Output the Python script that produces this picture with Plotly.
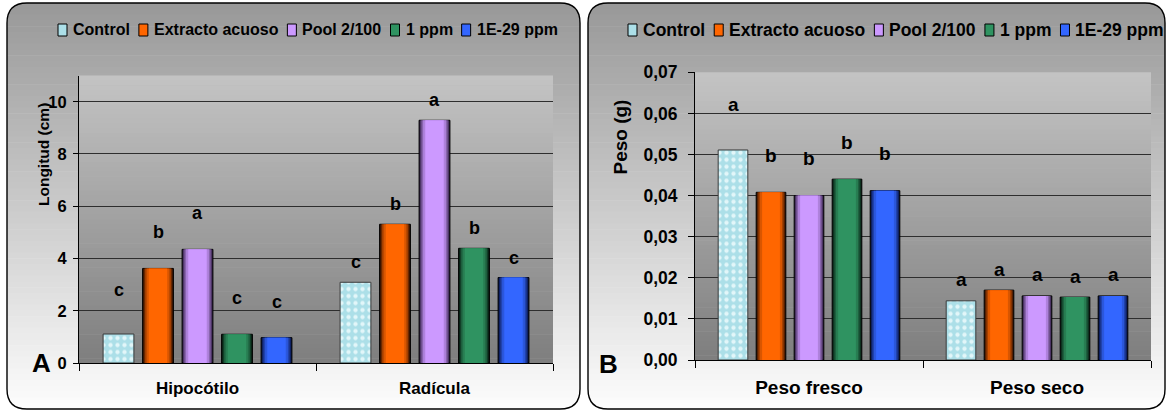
import plotly.graph_objects as go

W, H = 1166, 412

# ---------------- data ----------------
categories_A = ["Hipocótilo", "Radícula"]
categories_B = ["Peso fresco", "Peso seco"]
series_names = ["Control", "Extracto acuoso", "Pool 2/100", "1 ppm", "1E-29 ppm"]

longitud_control = [1.11, 3.09]
longitud_extracto = [3.62, 5.31]
longitud_pool = [4.35, 9.29]
longitud_1ppm = [1.10, 4.39]
longitud_1e29 = [0.97, 3.27]

letras_A_control = ["c", "c"]
letras_A_extracto = ["b", "b"]
letras_A_pool = ["a", "a"]
letras_A_1ppm = ["c", "b"]
letras_A_1e29 = ["c", "c"]

peso_control = [0.0511, 0.0144]
peso_extracto = [0.0408, 0.0170]
peso_pool = [0.0400, 0.0156]
peso_1ppm = [0.0440, 0.0153]
peso_1e29 = [0.0412, 0.0156]

letras_B_control = ["a", "a"]
letras_B_extracto = ["b", "a"]
letras_B_pool = ["b", "a"]
letras_B_1ppm = ["b", "a"]
letras_B_1e29 = ["b", "a"]

yticks_A = [0, 2, 4, 6, 8, 10]
yticks_B = [0.00, 0.01, 0.02, 0.03, 0.04, 0.05, 0.06, 0.07]

values_A = [longitud_control, longitud_extracto, longitud_pool, longitud_1ppm, longitud_1e29]
letters_A = [letras_A_control, letras_A_extracto, letras_A_pool, letras_A_1ppm, letras_A_1e29]
values_B = [peso_control, peso_extracto, peso_pool, peso_1ppm, peso_1e29]
letters_B = [letras_B_control, letras_B_extracto, letras_B_pool, letras_B_1ppm, letras_B_1e29]

# ---------------- style ----------------
FONT = "Liberation Sans, Arial, sans-serif"
colors_base = ["#acdfe8", "#ff6600", "#cc99ff", "#2f9361", "#3366ff"]
colors_dark = ["#7fb9c4", "#2a0e00", "#2a1a3c", "#061a10", "#06103c"]
SLOT = 1 / 6
BW = 0.13
LAYERS = [(1.0, 0.05), (0.92, 0.3), (0.84, 0.58), (0.74, 0.82), (0.6, 1.0)]


def hex2rgb(h):
    h = h.lstrip("#")
    return tuple(int(h[i:i + 2], 16) for i in (0, 2, 4))


def mix(c1, c2, t):
    a, b = hex2rgb(c1), hex2rgb(c2)
    r = [round(a[i] + (b[i] - a[i]) * t) for i in range(3)]
    return "rgb(%d,%d,%d)" % tuple(r)


def gx(x):
    return x / W


def gy(y):
    return 1 - y / H


fig = go.Figure()


def add_bars(values, cats, xa, ya):
    for si, vals in enumerate(values):
        center = (si - 2) * SLOT
        if si == 0:
            fig.add_trace(go.Bar(
                x=cats, y=vals, width=BW, offset=center - BW / 2,
                name=series_names[si], showlegend=False, xaxis=xa, yaxis=ya,
                marker=dict(color=colors_base[0],
                            line=dict(color="#3a3a3a", width=1),
                            pattern=dict(shape=".", bgcolor=colors_base[0],
                                         fgcolor="#e2f6f9", size=7, solidity=0.3))))
            continue
        for li, (f, t) in enumerate(LAYERS):
            w = BW * f
            fig.add_trace(go.Bar(
                x=cats, y=vals, width=w, offset=center - w / 2,
                name=series_names[si], showlegend=False, xaxis=xa, yaxis=ya,
                marker=dict(color=mix(colors_dark[si], colors_base[si], t),
                            line=dict(color="black", width=1 if li == 0 else 0))))


add_bars(values_A, categories_A, "x", "y")
add_bars(values_B, categories_B, "x2", "y2")

annotations = []
# letters above bars (pixel offsets above bar tops)
letter_shift_A = [36, 20]
letter_shift_B = [37, 21]
control_first_extra = 8
for values, letters, shifts, xr, yr, fs in [
        (values_A, letters_A, letter_shift_A, "x", "y", 18),
        (values_B, letters_B, letter_shift_B, "x2", "y2", 19)]:
    for si in range(5):
        for ci in range(2):
            extra = control_first_extra if (si == 0 and ci == 0) else 0
            annotations.append(dict(
                x=ci + (si - 2) * SLOT, y=values[si][ci], xref=xr, yref=yr,
                text=letters[si][ci], showarrow=False, yshift=shifts[ci] + extra,
                font=dict(family=FONT, size=fs, color="black", weight="bold")))

# ---------------- backgrounds ----------------
shapes = []


def gradient(x0, x1, y0, y1, c_top, c_bot, n=60):
    step = (y1 - y0) / n
    for k in range(n):
        t = (k + 0.5) / n
        c = round(c_top + (c_bot - c_top) * t)
        ya = y0 + k * step
        yb = min(y1, ya + step + 0.6)
        shapes.append(dict(type="rect", xref="paper", yref="paper", layer="below",
                           x0=gx(x0), x1=gx(x1), y0=gy(ya), y1=gy(yb),
                           fillcolor="rgb(%d,%d,%d)" % (c, c, c), line=dict(width=0)))


def P(x, y):
    return "%.6f,%.6f" % (gx(x), gy(y))


def panel(x0, x1, y0, y1, r):
    gradient(x0, x1, y0, y1, 152, 253, n=70)
    for (cx, cy, sx, sy) in [(x0, y0, 1, 1), (x1, y0, -1, 1), (x0, y1, 1, -1), (x1, y1, -1, -1)]:
        shapes.append(dict(type="path", xref="paper", yref="paper", layer="below",
                           path="M%s L%s Q%s %s Z" % (P(cx, cy), P(cx + sx * r, cy), P(cx, cy),
                                                     P(cx, cy + sy * r)),
                           fillcolor="white", line=dict(width=0)))
    border = ("M%s L%s Q%s %s L%s Q%s %s L%s Q%s %s L%s Q%s %s Z" % (
        P(x0 + r, y0), P(x1 - r, y0), P(x1, y0), P(x1, y0 + r),
        P(x1, y1 - r), P(x1, y1), P(x1 - r, y1),
        P(x0 + r, y1), P(x0, y1), P(x0, y1 - r),
        P(x0, y0 + r), P(x0, y0), P(x0 + r, y0)))
    shapes.append(dict(type="path", xref="paper", yref="paper", layer="below",
                       path=border, line=dict(color="black", width=1.4)))


panel(7, 580, 3, 409, 20)
panel(588, 1165, 3, 409, 20)

# plot-area gradients
PA = (79, 553, 75.6, 363)
PB = (695, 1151, 72.3, 360)
gradient(PA[0], PA[1], PA[2], PA[3], 196, 126)
gradient(PB[0], PB[1], PB[2], PB[3], 196, 126)

# ---------------- custom legends ----------------
CW = {" ": 278, "/": 278, "-": 333, "C": 722, "E": 667, "P": 667, "a": 556, "c": 556,
      "l": 278, "m": 889, "n": 611, "o": 611, "p": 611, "r": 389, "s": 556, "t": 333,
      "u": 611, "x": 556}


def text_w(s, size):
    return sum(CW.get(ch, 556) for ch in s) / 1000 * size


def legend(x_start, yc, size, gap, sw=9, sh=12):
    x = x_start
    for si, name in enumerate(series_names):
        shapes.append(dict(type="rect", xref="paper", yref="paper", layer="above",
                           x0=gx(x), x1=gx(x + sw), y0=gy(yc + sh / 2), y1=gy(yc - sh / 2),
                           fillcolor=colors_base[si], line=dict(color="black", width=1)))
        annotations.append(dict(x=gx(x + sw + 4), y=gy(yc), xref="paper", yref="paper",
                                xanchor="left", yanchor="middle", text=name, showarrow=False,
                                font=dict(family=FONT, size=size, color="black", weight="bold")))
        x += sw + 4 + text_w(name, size) + gap


legend(58, 30, 16, 11)
legend(628, 30, 17.5, 11)

# axis titles and panel letters
annotations.append(dict(x=gx(33), y=gy(101), xref="paper", yref="paper", text="Longitud (cm)",
                        textangle=-90, showarrow=False,
                        font=dict(family=FONT, size=15.5, color="black", weight="bold")))
annotations.append(dict(x=gx(620), y=gy(98), xref="paper", yref="paper", text="Peso (g)",
                        textangle=-90, showarrow=False,
                        font=dict(family=FONT, size=19, color="black", weight="bold")))
annotations.append(dict(x=gx(30), y=gy(380), xref="paper", yref="paper", text="A", showarrow=False,
                        font=dict(family=FONT, size=26, color="black", weight="bold")))
annotations.append(dict(x=gx(608), y=gy(381), xref="paper", yref="paper", text="B", showarrow=False,
                        font=dict(family=FONT, size=26, color="black", weight="bold")))

xaxis_common = dict(type="category", range=[-0.5, 1.5], showline=True, linecolor="black",
                    linewidth=1, ticks="outside", tickson="boundaries", ticklen=7,
                    tickcolor="black", showgrid=False, zeroline=False, ticklabelstandoff=10,
                    automargin=False)
yaxis_common = dict(showline=True, linecolor="black", linewidth=1, ticks="outside",
                    tickcolor="black", showgrid=True, gridcolor="#2e2e2e", gridwidth=1,
                    zeroline=False, automargin=False)

fig.update_layout(
    template="none",
    width=W, height=H, margin=dict(l=0, r=0, t=0, b=0, pad=0, autoexpand=False),
    paper_bgcolor="white", plot_bgcolor="rgba(0,0,0,0)",
    separators=",.", showlegend=False, barmode="overlay",
    xaxis=dict(domain=[gx(PA[0]), gx(PA[1])], anchor="y",
               tickfont=dict(family=FONT, size=17, color="black", weight="bold"), **xaxis_common),
    yaxis=dict(domain=[gy(PA[3]), gy(PA[2])], anchor="x", range=[0, 11], tickvals=yticks_A,
               ticklen=5, ticklabelstandoff=3,
               tickfont=dict(family=FONT, size=16.5, color="black", weight="bold"), **yaxis_common),
    xaxis2=dict(domain=[gx(PB[0]), gx(PB[1])], anchor="y2",
                tickfont=dict(family=FONT, size=19, color="black", weight="bold"), **xaxis_common),
    yaxis2=dict(domain=[gy(PB[3]), gy(PB[2])], anchor="x2", range=[0, 0.07], tickvals=yticks_B,
                tickformat=".2f", ticklen=6, ticklabelstandoff=7,
                tickfont=dict(family=FONT, size=17.5, color="black", weight="bold"), **yaxis_common),
    shapes=shapes, annotations=annotations,
)

fig.write_html("out.html")
